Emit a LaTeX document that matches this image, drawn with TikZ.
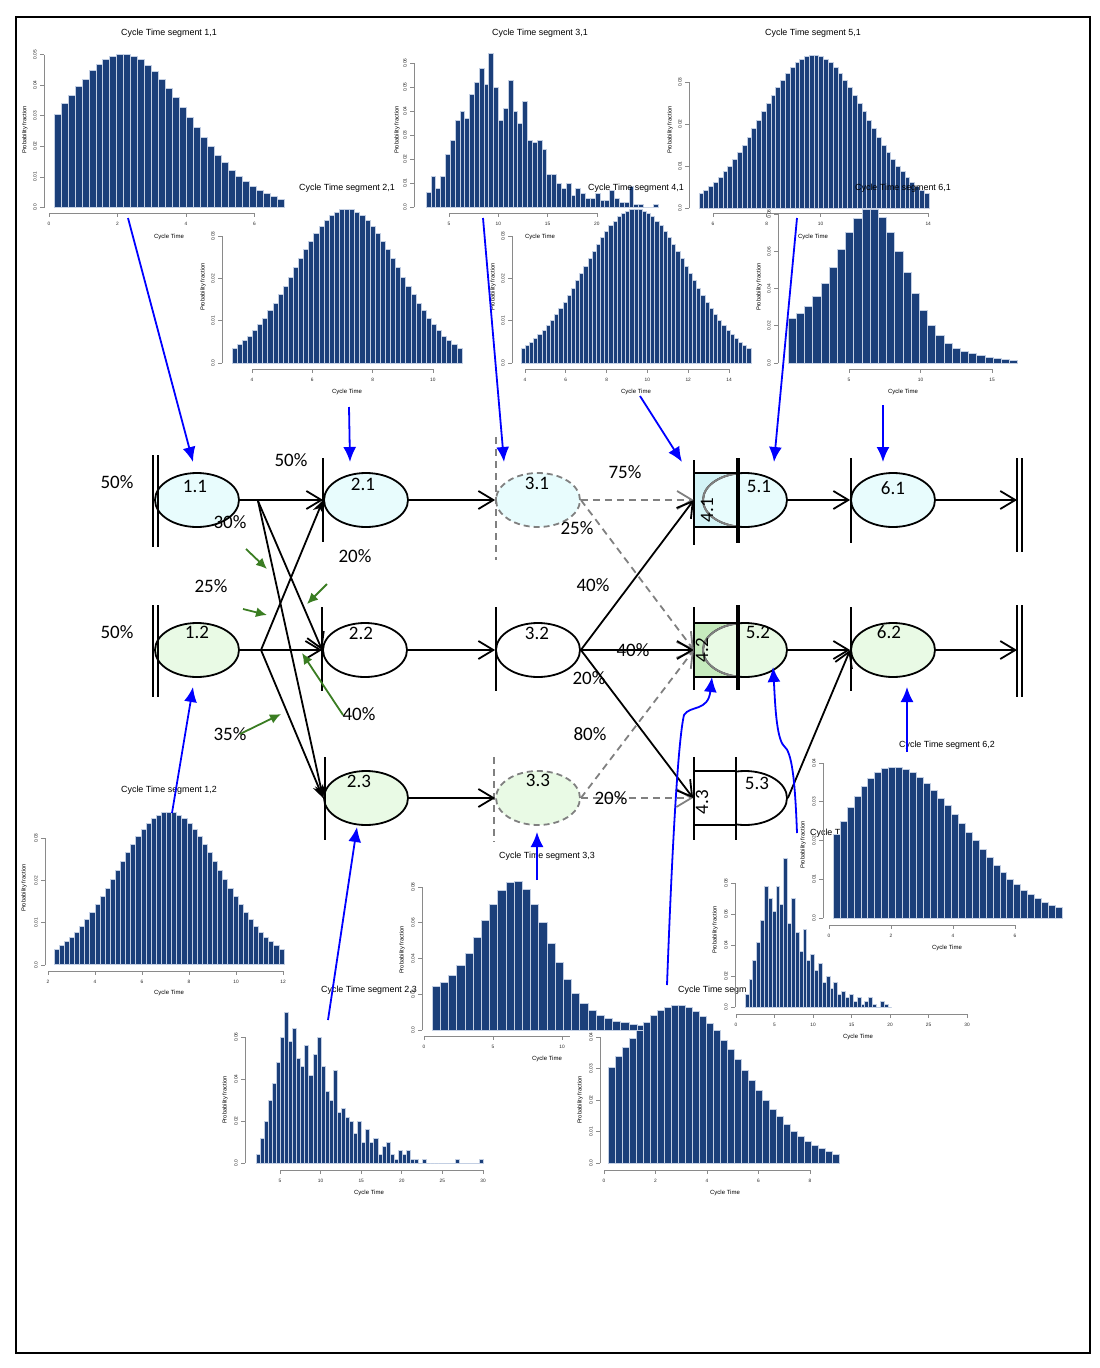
\documentclass[tikz,border=0pt]{standalone}
\usepackage{fontspec}
\setmainfont{Liberation Sans}
\newfontfamily\clb{Carlito}
\usetikzlibrary{shapes.geometric,arrows.meta}
\definecolor{barfill}{HTML}{1B3F7A}
\definecolor{barline}{HTML}{C3CFE3}
\definecolor{axgray}{HTML}{8A8A8A}
\definecolor{cy}{HTML}{E8FCFD}
\definecolor{cybox}{HTML}{D3F3F6}
\definecolor{gr}{HTML}{E9FAE5}
\definecolor{grbox}{HTML}{C6EBBD}
\definecolor{grn}{HTML}{3A7D22}
\tikzset{
 hbar/.style={fill=barfill,draw=barline,line width=0.6pt},
 axl/.style={draw=axgray,line width=0.7pt},
 tk/.style={font=\fontsize{4.8}{5}\selectfont,text=black!85,inner sep=0},
 ttl/.style={font=\fontsize{8.9}{10}\selectfont,inner sep=0},
 xl/.style={font=\fontsize{6}{7}\selectfont,inner sep=0},
 yl/.style={font=\fontsize{5.8}{7}\selectfont,inner sep=0,rotate=90},
 el/.style={ellipse,draw,line width=1.8pt,minimum width=84pt,minimum height=54pt,inner sep=0},
 del/.style={el,draw=gray,dash pattern=on 6pt off 4pt},
 boxn/.style={rectangle,draw=none,minimum width=44pt,minimum height=54pt,inner sep=0},
 lab/.style={font=\clb\fontsize{19}{20}\selectfont,inner sep=0},
 pct/.style={font=\clb\fontsize{19}{20}\selectfont,inner sep=0},
 conn/.style={line width=1.8pt,-{Straight Barb[length=15pt,width=18pt]}},
 conns/.style={line width=1.8pt,-{Stealth[length=13pt,width=11pt]}},
 dconn/.style={draw=gray,line width=1.8pt,dash pattern=on 7pt off 5pt,-{Straight Barb[length=15pt,width=18pt]}},
 vl/.style={line width=2.2pt},
 dvl/.style={draw=gray,line width=2pt,dash pattern=on 7pt off 5pt},
 barrow/.style={draw=blue,line width=1.8pt,-{Latex[length=15pt,width=13pt]}},
 garrow/.style={draw=grn,line width=1.8pt,-{Latex[length=11pt,width=10pt]}},
}
\newcommand\yaxis[4]{%
  \foreach \l [count=\k from 0] in {#4}{%
    \draw[axl] (#1,{#2-\k*#3}) -- ++(-4,0);
    \node[tk,rotate=90] at ({#1-9},{#2-\k*#3}) {\l};
    \xdef\ylast{\k}}%
  \draw[axl] (#1,#2) -- (#1,{#2-\ylast*#3});}
\newcommand\xaxis[4]{%
  \foreach \l [count=\k from 0] in {#4}{%
    \draw[axl] ({#2+\k*#3},#1) -- ++(0,4);
    \node[tk] at ({#2+\k*#3},{#1+11}) {\l};
    \xdef\xlast{\k}}%
  \draw[axl] (#2,#1) -- ({#2+\xlast*#3},#1);}
\newcommand\bars[5]{%
  \edef\tmplist{#5}%
  \foreach \h [count=\i from 0] in \tmplist
    \filldraw[hbar] ({#1+\i*#3},#2) rectangle ++(#3,{-\h*#4/10});}
\newcommand\nbars[7]{%
  \foreach \i in {0,...,#4}{%
    \pgfmathsetmacro\hh{#5*exp(-((\i-#7)^2)/(2*#6*#6))}
    \filldraw[hbar] ({#1+\i*#3},#2) rectangle ++(#3,{-\hh});}}
\def\listA{30.5,34,36.7,39.5,42,44.7,46.8,48.5,49.5,50,50,49.5,48.3,46.5,44.5,42,39,36,32.8,29.5,26.2,23,20,17.2,14.7,12.3,10.2,8.5,7,5.7,4.7,3.7,2.8}
\def\listB{24.2,26.9,30.6,36,43,51.6,61.3,70.4,78,82.4,82.8,78.5,70.4,60.2,48.7,37.6,28.1,20.4,14.9,10.8,8.1,6.3,5,4.1,3.2,2.5,2,1.6}
\begin{document}
\begin{tikzpicture}[x=1pt,y=-1pt]
\useasboundingbox (0,0) rectangle (1100,1368);
\draw[line width=1.6pt] (16,17) rectangle (1090,1353);

% ---------- H11
\bars{54}{207.5}{6.97}{30.6}{\listA}
\yaxis{44}{207.5}{30.6}{0.0,0.01,0.02,0.03,0.04,0.05}
\xaxis{213}{49}{68.5}{0,2,4,6}
\node[ttl] (h11t) at (169,33) {Cycle Time segment 1,1};
\node[xl] (h11x) at (169,237) {Cycle Time};
\node[yl] (h11y) at (25,130) {Probability fraction};

% ---------- H31
\bars{426}{207}{4.83}{24}{6,13,7.6,12.8,21.8,27.8,36,40,37,47,52,58,51,64,50,36,41,53,40,35,44,28,27,28,24,13.8,13.8,10,7.8,10,5,7.8,5.8,3.8,3.8,5.8,2.8,2.8,7,3.8,2,2,8.6,1,1,0,0,1}
\yaxis{414}{207}{24}{0.0,0.01,0.02,0.03,0.04,0.05,0.06}
\xaxis{213}{449}{49.3}{5,10,15,20}
\node[ttl] (h31t) at (540,33) {Cycle Time segment 3,1};
\node[xl] (h31x) at (540,237) {Cycle Time};
\node[yl] (h31y) at (397,130) {Probability fraction};

% ---------- H51
\nbars{699}{208}{4.79}{47}{153}{10.9}{23.5}
\yaxis{689}{208}{42}{0.0,0.01,0.02,0.03}
\xaxis{213}{713}{53.8}{6,8,10,12,14}
\node[ttl] (h51t) at (813,33) {Cycle Time segment 5,1};
\node[xl] (h51x) at (813,237) {Cycle Time};
\node[yl] (h51y) at (670,130) {Probability fraction};

% ---------- H21
\nbars{232}{363}{5.11}{44}{154}{10.2}{22}
\yaxis{222}{363}{42.3}{0.0,0.01,0.02,0.03}
\xaxis{369}{252}{60.3}{4,6,8,10}
\node[ttl] (h21t) at (347,188) {Cycle Time segment 2,1};
\node[xl] (h21x) at (347,392) {Cycle Time};
\node[yl] (h21y) at (203,287) {Probability fraction};

% ---------- H41
\nbars{521}{363}{4.18}{54}{154}{12.5}{27}
\yaxis{512}{363}{42.3}{0.0,0.01,0.02,0.03}
\xaxis{369}{525}{40.8}{4,6,8,10,12,14}
\node[ttl] (h41t) at (636,188) {Cycle Time segment 4,1};
\node[xl] (h41x) at (636,392) {Cycle Time};
\node[yl] (h41y) at (493,287) {Probability fraction};

% ---------- H61
\bars{788}{363}{8.2}{18.6}{\listB}
\yaxis{778}{363}{37.2}{0.0,0.02,0.04,0.06,0.08}
\xaxis{369}{849}{71.5}{5,10,15}
\node[ttl] (h61t) at (903,188) {Cycle Time segment 6,1};
\node[xl] (h61x) at (903,392) {Cycle Time};
\node[yl] (h61y) at (759,287) {Probability fraction};

% ---------- H12
\nbars{54}{964}{5.11}{44}{152}{10.2}{22}
\yaxis{45}{965}{42.3}{0.0,0.01,0.02,0.03}
\xaxis{971}{48}{47}{2,4,6,8,10,12}
\node[ttl] (h12t) at (169,790) {Cycle Time segment 1,2};
\node[xl] (h12x) at (169,993) {Cycle Time};
\node[yl] (h12y) at (24,888) {Probability fraction};

% ---------- H23
\bars{256}{1163}{4.06}{21}{4,12,20,30,38,48,60,72,58,64,50,46,56,42,52,60,46,34,30,44,24,26,22,20,14,20,10,16,10,12,4,8,10,4,2,6,4,6,2,2,0,2,0,0,0,0,0,0,0,2,0,0,0,0,0,2}
\yaxis{245}{1163}{42}{0.0,0.02,0.04,0.06}
\xaxis{1170}{280}{40.6}{5,10,15,20,25,30}
\node[ttl] (h23t) at (369,990) {Cycle Time segment 2,3};
\node[xl] (h23x) at (369,1193) {Cycle Time};
\node[yl] (h23y) at (225,1100) {Probability fraction};

% ---------- H33
\bars{432}{1030}{8.2}{17.9}{\listB}
\yaxis{422}{1030}{35.75}{0.0,0.02,0.04,0.06,0.08}
\xaxis{1036}{424}{69}{0,5,10,15}
\node[ttl] (h33t) at (547,856) {Cycle Time segment 3,3};
\node[xl] (h33x) at (547,1059) {Cycle Time};
\node[yl] (h33y) at (402,950) {Probability fraction};

% ---------- H43
\fill[white] (570,1033) rectangle (845,1200);
\bars{608}{1163}{7.0}{31.5}{\listA}
\yaxis{600}{1163}{31.5}{0.0,0.01,0.02,0.03,0.04}
\xaxis{1170}{604}{51.5}{0,2,4,6,8}
\node[ttl] (h43t) at (726,990) {Cycle Time segment 4,3};
\node[xl] (h43x) at (725,1193) {Cycle Time};
\node[yl] (h43y) at (580,1100) {Probability fraction};

% ---------- H53
\fill[white] (746,845) rectangle (976,1045);
\bars{745}{1007}{3.86}{15.5}{8,18,30,42,56,78,70,62,78,66,96,54,70,48,36,50,30,34,24,28,16,20,12,16,8,10,6,8,4,6,2,4,6,2,0,4,2,0}
\yaxis{735}{1007}{31}{0.0,0.02,0.04,0.06,0.08}
\xaxis{1014}{736}{38.5}{0,5,10,15,20,25,30}
\node[ttl] (h53t) at (858,833) {Cycle Time segment 5,3};
\node[xl] (h53x) at (858,1037) {Cycle Time};
\node[yl] (h53y) at (715,930) {Probability fraction};

% ---------- H62
\fill[white] (849,752) rectangle (1068,928);
\bars{833}{918}{6.95}{38.75}{21.5,25,28.5,31.5,34,36,37.5,38.7,39,39,38.5,37.5,36.2,34.8,33,31,29,26.8,24.5,22.2,20,17.8,15.7,13.7,11.8,10.1,8.6,7.2,6,5,4.1,3.4,2.8}
\yaxis{823}{918}{38.75}{0.0,0.01,0.02,0.03,0.04}
\xaxis{925}{829}{62}{0,2,4,6}
\node[ttl] (h62t) at (947,745) {Cycle Time segment 6,2};
\node[xl] (h62x) at (947,948) {Cycle Time};
\node[yl] (h62y) at (803,845) {Probability fraction};

% ================= NETWORK
\node[el,fill=cy] (n11) at (197,500) {};
\node[el,fill=gr] (n12) at (197,650) {};
\node[el,fill=cy] (n21) at (366,500) {};
\node[el,fill=white] (n22) at (365,650) {};
\node[el,fill=gr] (n23) at (366,798) {};
\node[del,fill=cy] (n31) at (538,500) {};
\node[el,fill=white] (n32) at (538,650) {};
\node[del,fill=gr] (n33) at (538,798) {};
\node[el,fill=cy] (n61) at (893,500) {};
\node[el,fill=gr] (n62) at (893,650) {};

% 4.1 / 5.1
\node[boxn,fill=cybox] (b41) at (716,500) {};
\node[el,fill=cy] (n51) at (745,500) {};
\begin{scope}
\clip (b41.south west) rectangle (b41.north east);
\draw[gray,line width=1.9pt] (n51.center) ellipse [x radius=42pt,y radius=27pt];
\end{scope}
\draw[line width=1.8pt] (b41.south west) rectangle (b41.north east);
\draw[line width=3.6pt] (738,458) -- (738,543);
\draw[vl] (694,460) -- (694,545);

% 4.2 / 5.2
\node[boxn,fill=grbox] (b42) at (716,650) {};
\node[el,fill=gr] (n52) at (745,650) {};
\begin{scope}
\clip (b42.south west) rectangle (b42.north east);
\draw[gray,line width=1.9pt] (n52.center) ellipse [x radius=42pt,y radius=27pt];
\end{scope}
\draw[line width=1.8pt] (b42.south west) rectangle (b42.north east);
\draw[line width=3.6pt] (738,605) -- (738,690);
\draw[vl] (694,607) -- (694,690);

% 4.3 / 5.3
\node[el,fill=white] (n53) at (745,798) {};
\node[boxn,fill=white,draw,line width=1.8pt,minimum width=42pt] (b43) at (715,798) {};
\draw[vl] (694,757) -- (694,840);
\draw[vl] (736,757) -- (736,840);

% bars
\draw[vl] (153,455) -- (153,547);
\draw[vl] (158,455) -- (158,547);
\draw[vl] (153,605) -- (153,697);
\draw[vl] (158,605) -- (158,697);
\draw[vl] (323,458) -- (323,542);
\draw[vl] (322,607) -- (322,691);
\draw[vl] (325,757) -- (325,840);
\draw[dvl] (496,437) -- (496,560);
\draw[vl] (496,607) -- (496,691);
\draw[dvl] (494,757) -- (494,842);
\draw[vl] (851,458) -- (851,543);
\draw[vl] (851,607) -- (851,691);
\draw[vl] (1017,458) -- (1017,552);
\draw[vl] (1022,458) -- (1022,552);
\draw[vl] (1017,605) -- (1017,697);
\draw[vl] (1022,605) -- (1022,697);

% node labels
\node[lab] (t11) at (195,486) {1.1};
\node[lab] (t12) at (197,632) {1.2};
\node[lab] (t21) at (363,484) {2.1};
\node[lab] (t22) at (361,633) {2.2};
\node[lab] (t23) at (359,781) {2.3};
\node[lab] (t31) at (537,483) {3.1};
\node[lab] (t32) at (537,633) {3.2};
\node[lab] (t33) at (538,780) {3.3};
\node[lab,rotate=90] (t41) at (707,510) {4.1};
\node[lab,rotate=90] (t42) at (702,650) {4.2};
\node[lab,rotate=90] (t43) at (702,802) {4.3};
\node[lab] (t51) at (759,486) {5.1};
\node[lab] (t52) at (758,632) {5.2};
\node[lab] (t53) at (757,783) {5.3};
\node[lab] (t61) at (893,488) {6.1};
\node[lab] (t62) at (889,632) {6.2};

% connectors
\coordinate (b1) at (258,501);
\coordinate (b2) at (261,650);
\coordinate (e1) at (1017,500);
\coordinate (e2) at (1017,650);
\draw[conn] (n11.east) -- (n21.west);
\draw[conn] (n12.east) -- (n22.west);
\draw[conn] (b1) -- (n22.west);
\draw[conns] (b1) -- (n23.west);
\draw[conns] (b2) -- (n21.west);
\draw[conns] (b2) -- (n23.west);
\draw[conn] (n21.east) -- (n31.west);
\draw[conn] (n22.east) -- (n32.west);
\draw[conn] (n23.east) -- (n33.west);
\draw[dconn] (n31.east) -- (b41.west);
\draw[dconn] (n31.east) -- (b42.west);
\draw[dconn] (n33.east) -- (b42.west);
\draw[dconn] (n33.east) -- (b43.west);
\draw[conn] (n32.east) -- (b41.west);
\draw[conn] (n32.east) -- (b42.west);
\draw[conn] (n32.east) -- (b43.west);
\draw[conn] (n51.east) -- (n61.west);
\draw[conn] (n52.east) -- (n62.west);
\draw[conn] (n53.east) -- (n62.west);
\draw[conn] (n61.east) -- (e1);
\draw[conn] (n62.east) -- (e2);

% percentages
\node[pct] (p1) at (117,482) {50\%};
\node[pct] (p2) at (291,460) {50\%};
\node[pct] (p3) at (230,522) {30\%};
\node[pct] (p4) at (355,556) {20\%};
\node[pct] (p5) at (211,586) {25\%};
\node[pct] (p6) at (117,632) {50\%};
\node[pct] (p7) at (359,714) {40\%};
\node[pct] (p8) at (230,734) {35\%};
\node[pct] (p9) at (625,472) {75\%};
\node[pct] (p10) at (577,528) {25\%};
\node[pct] (p11) at (593,585) {40\%};
\node[pct] (p12) at (633,650) {40\%};
\node[pct] (p13) at (589,678) {20\%};
\node[pct] (p14) at (590,734) {80\%};
\node[pct] (p15) at (611,798) {20\%};

% green arrows
\coordinate (g1s) at (246,549); \coordinate (g1e) at (267,569);
\coordinate (g2s) at (243,609); \coordinate (g2e) at (267,615);
\coordinate (g3s) at (327,584); \coordinate (g3e) at (307,604);
\coordinate (g4s) at (343,715); \coordinate (g4e) at (302,653);
\coordinate (g5s) at (240,734); \coordinate (g5e) at (281,714);
\draw[garrow] (g1s) -- (g1e);
\draw[garrow] (g2s) -- (g2e);
\draw[garrow] (g3s) -- (g3e);
\draw[garrow] (g4s) -- (g4e);
\draw[garrow] (g5s) -- (g5e);

% blue arrows
\coordinate (a11s) at (128,218); \coordinate (a11e) at (193,462);
\coordinate (a21s) at (349,407); \coordinate (a21e) at (350,462);
\coordinate (a31s) at (483,218); \coordinate (a31e) at (504,462);
\coordinate (a41s) at (640,396); \coordinate (a41e) at (682,462);
\coordinate (a51s) at (797,218); \coordinate (a51e) at (774,462);
\coordinate (a61s) at (883,405); \coordinate (a61e) at (883,462);
\coordinate (a12s) at (172,813); \coordinate (a12e) at (193,687);
\coordinate (a23s) at (328,1020); \coordinate (a23e) at (357,827);
\coordinate (a33s) at (537,880); \coordinate (a33e) at (537,832);
\coordinate (a43s) at (667,985); \coordinate (a43e) at (712,677);
\coordinate (a53s) at (797,833); \coordinate (a53e) at (773,667);
\coordinate (a62s) at (907,752); \coordinate (a62e) at (907,687);
\draw[barrow] (a11s) -- (a11e);
\draw[barrow] (a21s) -- (a21e);
\draw[barrow] (a31s) -- (a31e);
\draw[barrow] (a41s) -- (a41e);
\draw[barrow] (a51s) -- (a51e);
\draw[barrow] (a61s) -- (a61e);
\draw[barrow] (a12s) -- (a12e);
\draw[barrow] (a23s) -- (a23e);
\draw[barrow] (a33s) -- (a33e);
\draw[barrow] (a43s) .. controls (672,850) and (678,740) .. (684,715) .. controls (690,705) and (708,712) .. (a43e);
\draw[barrow] (a53s) .. controls (795,780) and (792,752) .. (784,746) .. controls (776,738) and (775,700) .. (a53e);
\draw[barrow] (a62s) -- (a62e);
\end{tikzpicture}
\end{document}
